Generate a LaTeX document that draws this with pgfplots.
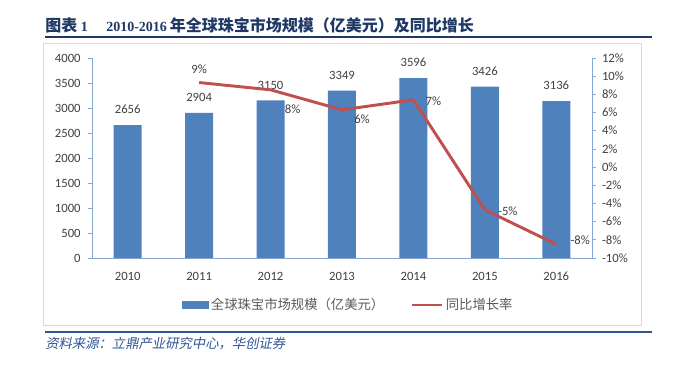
\documentclass[border=0pt]{standalone}
\usepackage{fontspec}
\usepackage{pgfplots}
\usepackage{pgfplotstable}
\pgfplotsset{compat=1.18}
\setmainfont{Carlito}
\newfontfamily\cjk{Noto Sans CJK SC}
\newfontfamily\cjkit{Noto Sans CJK SC}[FakeSlant=0.2]
\newfontfamily\titleserif{Liberation Serif}
\definecolor{barblue}{HTML}{4F81BD}
\definecolor{linered}{HTML}{C0504D}
\definecolor{axisblue}{HTML}{86A6D6}
\definecolor{titleblue}{HTML}{1F3864}
\definecolor{srcblue}{HTML}{2F5597}
\definecolor{txtgray}{HTML}{404040}
\definecolor{leggray}{HTML}{595959}

\pgfplotstableread{
x val
0 2656
1 2904
2 3150
3 3349
4 3596
5 3426
6 3136
}\bardata

\pgfplotstableread{
x g dx dy lab
1 9.3 0 9.75 9
2 8.5 16.5 -14.25 8
3 6.3 15 -6.75 6
4 7.4 15 -0.75 7
5 -4.7 17.25 -0.75 -5
6 -8.5 18 3 -8
}\linedata

\begin{document}
\begin{tikzpicture}[x=0.75pt,y=0.75pt]
\path[use as bounding box] (0,0) rectangle (679,368);
% frame
\draw[black!15, line width=0.6pt] (43,325) rectangle (641,43);
% title
\node[anchor=west, text=titleblue, inner sep=0] at (45,343) {\cjk\bfseries\fontsize{12}{14}\selectfont 图表\ {\titleserif\bfseries\fontsize{10.5}{12}\selectfont 1}};
\node[anchor=west, text=titleblue, inner sep=0] at (106,343) {{\titleserif\bfseries\fontsize{10.5}{12}\selectfont 2010-2016} {\cjk\bfseries\fontsize{12}{14}\selectfont 年全球珠宝市场规模（亿美元）及同比增长}};
\draw[titleblue, line width=1.2pt] (45,331) -- (652,331);
% source
\draw[srcblue, line width=1.5pt] (45,36) -- (652,36);
\node[anchor=west, text=srcblue, inner sep=0] at (45,24) {\cjkit\fontsize{10}{12}\selectfont 资料来源：立鼎产业研究中心，华创证券};

\begin{axis}[
  at={(69pt,82.5pt)}, anchor=south west,
  scale only axis, width=375pt, height=150pt,
  xmin=-0.5, xmax=6.5, ymin=0, ymax=4000,
  axis x line*=bottom, axis y line*=left,
  axis line style={axisblue, line width=0.6pt},
  xtick={0,...,6}, xticklabels={2010,2011,2012,2013,2014,2015,2016},
  x tick style={draw=none},
  ytick={0,500,...,4000},
  yticklabels={0,500,1000,1500,2000,2500,3000,3500,4000},
  y tick style={axisblue, line width=0.6pt},
  tick align=outside, major tick length=3pt,
  ticklabel style={font=\fontsize{9.5}{11}\selectfont, text=txtgray},
  xticklabel style={yshift=-4pt},
  yticklabel style={xshift=-2pt},
  ybar, bar width=21pt,
  nodes near coords,
  every node near coord/.append style={font=\fontsize{9.5}{11}\selectfont, text=txtgray, yshift=5pt,
    /pgf/number format/1000 sep={}, /pgf/number format/assume math mode=true},
]
\addplot[fill=barblue, draw=none] table[x=x, y=val]{\bardata};
\end{axis}

\begin{axis}[
  at={(69pt,82.5pt)}, anchor=south west,
  scale only axis, width=375pt, height=150pt,
  xmin=-0.5, xmax=6.5, ymin=-10, ymax=12,
  axis x line=none, axis y line*=right,
  axis line style={axisblue, line width=0.6pt},
  ytick={-10,-8,...,12},
  yticklabels={-10\%,-8\%,-6\%,-4\%,-2\%,0\%,2\%,4\%,6\%,8\%,10\%,12\%},
  y tick style={axisblue, line width=0.6pt},
  tick align=outside, major tick length=3pt,
  ticklabel style={font=\fontsize{9.5}{11}\selectfont, text=txtgray},
  yticklabel style={anchor=west, xshift=1pt},
  legend style={at={(0.513,-0.235)}, anchor=center, draw=none, fill=none,
    legend columns=2, font=\cjk\fontsize{10}{12}\selectfont, text=leggray,
    /tikz/every even column/.append style={column sep=18pt}},
]
\addlegendimage{legend image code/.code={\fill[barblue] (0pt,-2.6pt) rectangle (19.5pt,2.6pt);}}
\addlegendentry{全球珠宝市场规模（亿美元）}
\addplot[linered, line width=2.2pt, line join=round, mark=none,
  legend image code/.code={\draw[linered, line width=2.2pt] (0pt,0pt) -- (22pt,0pt);},
  point meta=explicit symbolic,
  visualization depends on={\thisrow{dx} \as \pdx},
  visualization depends on={\thisrow{dy} \as \pdy},
  nodes near coords={\pgfplotspointmeta\%},
  every node near coord/.append style={anchor=center, font=\fontsize{9.5}{11}\selectfont, text=txtgray, xshift=\pdx pt, yshift=\pdy pt},
] table[x=x, y=g, meta=lab]{\linedata};
\addlegendentry{同比增长率}
\end{axis}
\end{tikzpicture}
\end{document}
